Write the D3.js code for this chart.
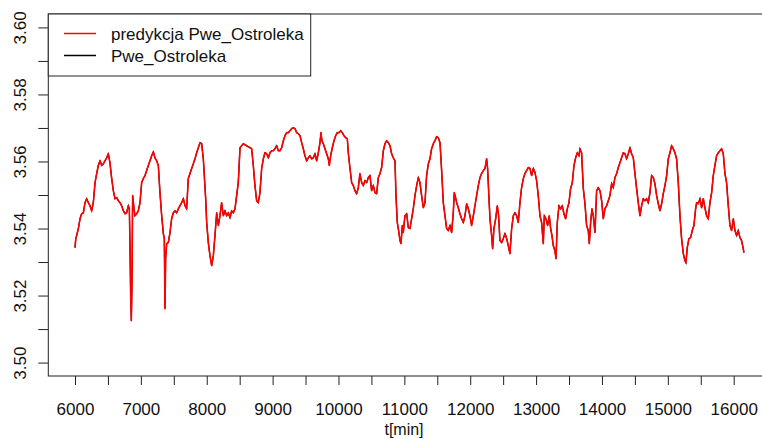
<!DOCTYPE html>
<html>
<head>
<meta charset="utf-8">
<script src="https://cdn.jsdelivr.net/npm/d3@7"></script>
<style>
  html, body { margin: 0; padding: 0; background: #fff; }
  svg text { font-family: "Liberation Sans", Arial, sans-serif; }
</style>
</head>
<body>
<svg id="chart" width="762" height="439"></svg>
<script>
// ---- data ----
const times = [
 6000,6012,6025,6051,6076,6101,6127,6152,6177,6202,6228,6253,6278,6304,6329,6354,6380,6405,6430,6455,
 6481,6506,6531,6557,6582,6607,6633,6658,6683,6708,6734,6759,6784,6810,6825,6835,6845,6855,6865,6875,
 6896,6911,6936,6961,6987,7012,7037,7063,7088,7113,7139,7164,7189,7214,7240,7265,7290,7316,7341,7356,
 7366,7376,7392,7417,7442,7467,7493,7518,7543,7569,7594,7619,7645,7670,7695,7720,7746,7771,7796,7822,
 7847,7872,7898,7923,7948,7963,7984,7999,8024,8049,8075,8100,8125,8151,8176,8201,8226,8252,8277,8302,
 8328,8353,8378,8404,8429,8454,8479,
 8505,8555,8606,8657,8682,8707,8732,8758,8783,8808,8834,8859,8884,8910,8935,8960,8985,9011,9036,9061,
 9087,9112,9137,9163,9188,9213,9238,9264,9289,9314,9340,9365,9390,9416,9441,9466,9491,9517,9542,9567,
 9593,9618,9643,9669,9694,9719,9734,9749,9770,9795,9820,9846,9861,9881,9906,9932,9957,9982,10008,10033,
 10058,10083,10109,10134,10149,10175,10200,10225,10250,10276,10301,10326,10352,10377,10402,10428,10453,10478,10503,10529,
 10554,10579,10605,10630,10655,10681,10706,10731,10756,10782,10807,10832,10858,10873,10893,10913,10934,10949,10969,10984,
 11009,11035,11060,
 11085,11136,11161,11187,11212,11237,11262,11288,11313,11338,11364,11389,11414,11440,11465,11490,11515,11541,11556,11576,
 11591,11617,11642,11667,11693,11718,11743,11758,11778,11794,11819,11844,11870,11895,11920,11946,11971,11996,12021,12047,
 12072,12097,12123,12148,12173,12199,12224,12249,12264,12285,12300,12325,12340,12360,12386,12411,12431,12451,12477,12502,
 12527,12553,12578,12603,12629,12654,12679,12705,12730,12755,12780,12806,12831,12856,12882,12907,12932,12958,12983,13008,
 13033,13059,13084,13109,13125,13150,13175,13200,13221,13241,13261,13286,13302,13322,13347,13373,13398,13423,13448,13474,
 13499,13524,13550,13575,13600,13626,13651,
 13666,13691,13717,13742,13767,13792,13808,13828,13848,13868,13894,13919,13944,13970,13995,14020,14045,14071,14096,14121,
 14147,14172,14197,14223,14248,14273,14298,14324,14349,14374,14400,14425,14450,14476,14501,14526,14551,14577,14602,14627,
 14653,14678,14703,14729,14754,14779,14804,14830,14855,14880,14906,14931,14956,14982,15007,15032,15057,15083,15108,15133,
 15159,15184,15209,15235,15260,15275,15295,15320,15346,15371,15396,15422,15437,15462,15488,15513,15538,15563,15589,15614,
 15639,15665,15690,15715,15740,15766,15791,15816,15842,15867,15892,15918,15943,15968,15994,16019,16044,16069,16095,16120,
 16145,16155
];
const predykcja = [
 3.5343,3.5370,3.5379,3.5400,3.5429,3.5444,3.5447,3.5477,3.5489,3.5477,3.5468,3.5453,3.5477,3.5537,3.5564,3.5588,3.5602,3.5588,3.5593,3.5602,
 3.5611,3.5623,3.5596,3.5549,3.5513,3.5489,3.5492,3.5483,3.5477,3.5468,3.5453,3.5444,3.5447,3.5468,3.5459,3.5349,3.5200,3.5125,3.5239,3.5498,
 3.5459,3.5438,3.5444,3.5453,3.5477,3.5537,3.5549,3.5558,3.5573,3.5588,3.5602,3.5617,3.5629,3.5611,3.5602,3.5588,3.5507,3.5438,3.5385,3.5370,
 3.5161,3.5310,3.5355,3.5358,3.5388,3.5429,3.5447,3.5453,3.5447,3.5459,3.5468,3.5477,3.5489,3.5468,3.5459,3.5549,3.5564,3.5579,3.5593,3.5608,
 3.5626,3.5641,3.5656,3.5653,3.5608,3.5558,3.5489,3.5418,3.5358,3.5319,3.5289,3.5319,3.5379,3.5447,3.5409,3.5438,3.5477,3.5438,3.5453,3.5438,
 3.5447,3.5432,3.5453,3.5447,3.5459,3.5498,3.5537,
 3.5641,3.5653,3.5647,3.5641,3.5638,3.5588,3.5528,3.5483,3.5477,3.5507,3.5579,3.5608,3.5626,3.5623,3.5611,3.5626,3.5632,3.5632,3.5638,3.5647,
 3.5632,3.5632,3.5641,3.5662,3.5677,3.5686,3.5686,3.5692,3.5698,3.5701,3.5698,3.5686,3.5683,3.5677,3.5656,3.5638,3.5617,3.5602,3.5611,3.5617,
 3.5608,3.5611,3.5623,3.5602,3.5626,3.5656,3.5686,3.5662,3.5653,3.5638,3.5623,3.5608,3.5588,3.5617,3.5641,3.5662,3.5677,3.5686,3.5686,3.5692,
 3.5686,3.5677,3.5671,3.5668,3.5626,3.5579,3.5537,3.5528,3.5513,3.5504,3.5522,3.5564,3.5537,3.5528,3.5543,3.5537,3.5552,3.5558,3.5513,3.5528,
 3.5507,3.5504,3.5552,3.5564,3.5582,3.5632,3.5653,3.5662,3.5656,3.5647,3.5623,3.5611,3.5602,3.5498,3.5418,3.5394,3.5364,3.5355,3.5409,3.5388,
 3.5438,3.5444,3.5403,
 3.5400,3.5459,3.5498,3.5528,3.5552,3.5537,3.5498,3.5462,3.5477,3.5558,3.5593,3.5608,3.5638,3.5653,3.5662,3.5674,3.5671,3.5656,3.5608,3.5537,
 3.5477,3.5438,3.5400,3.5394,3.5409,3.5388,3.5447,3.5507,3.5492,3.5477,3.5462,3.5444,3.5429,3.5418,3.5438,3.5474,3.5459,3.5438,3.5409,3.5438,
 3.5468,3.5498,3.5528,3.5552,3.5564,3.5573,3.5579,3.5608,3.5579,3.5489,3.5429,3.5379,3.5340,3.5400,3.5429,3.5468,3.5438,3.5364,3.5358,3.5370,
 3.5385,3.5370,3.5349,3.5325,3.5400,3.5438,3.5447,3.5438,3.5418,3.5477,3.5522,3.5549,3.5564,3.5573,3.5582,3.5579,3.5558,3.5579,3.5567,3.5543,
 3.5498,3.5438,3.5418,3.5355,3.5438,3.5429,3.5409,3.5438,3.5400,3.5379,3.5349,3.5334,3.5310,3.5418,3.5468,3.5459,3.5468,3.5444,3.5429,3.5459,
 3.5477,3.5519,3.5537,3.5588,3.5611,3.5626,3.5617,
 3.5638,3.5626,3.5519,3.5474,3.5409,3.5394,3.5355,3.5418,3.5459,3.5438,3.5388,3.5513,3.5522,3.5513,3.5483,3.5429,3.5459,3.5468,3.5483,3.5498,
 3.5534,3.5522,3.5552,3.5564,3.5582,3.5596,3.5611,3.5626,3.5623,3.5608,3.5623,3.5641,3.5623,3.5611,3.5564,3.5519,3.5477,3.5438,3.5468,3.5489,
 3.5483,3.5489,3.5477,3.5507,3.5558,3.5552,3.5534,3.5498,3.5474,3.5453,3.5474,3.5504,3.5528,3.5558,3.5608,3.5626,3.5647,3.5638,3.5626,3.5608,
 3.5537,3.5438,3.5370,3.5325,3.5304,3.5298,3.5343,3.5370,3.5373,3.5394,3.5409,3.5459,3.5477,3.5474,3.5489,3.5462,3.5489,3.5462,3.5438,3.5429,
 3.5477,3.5507,3.5558,3.5588,3.5617,3.5626,3.5632,3.5638,3.5623,3.5564,3.5537,3.5468,3.5409,3.5394,3.5429,3.5394,3.5379,3.5394,3.5373,3.5364,
 3.5340,3.5328
];
// the observed series is drawn underneath and is almost entirely covered by the prediction
const observed = predykcja;

const xTicks = d3.range(6000, 16001, 500);
const xTickLabels = [6000, 7000, 8000, 9000, 10000, 11000, 12000, 13000, 14000, 15000, 16000];
const yTicks = [3.50, 3.51, 3.52, 3.53, 3.54, 3.55, 3.56, 3.57, 3.58, 3.59, 3.60];
const yTickLabels = [3.50, 3.52, 3.54, 3.56, 3.58, 3.60];
const yLimits = [3.50, 3.60];
const legendNames = ["predykcja Pwe_Ostroleka", "Pwe_Ostroleka"];
const legendColors = ["#ff0000", "#000000"];
const xTitle = "t[min]";

// ---- layout ----
const svg = d3.select("#chart");
const plotTop = 14, plotBottom = 376, plotLeft = 48.3;

// R-style 4% axis extension
const xmin = d3.min(times), xmax = d3.max(times);
const xr = xmax - xmin;
const xScale = d3.scaleLinear().domain([6000, 16000]).range([75, 733.7]);
const xDom = [xmin - 0.04 * xr, xmax + 0.04 * xr];
const plotRight = xScale(xDom[1]);
const yr = yLimits[1] - yLimits[0];
const yScale = d3.scaleLinear()
  .domain([yLimits[0] - 0.04 * yr, yLimits[1] + 0.04 * yr])
  .range([plotBottom, plotTop]);

// clip
svg.append("defs").append("clipPath").attr("id", "clip")
  .append("rect").attr("x", plotLeft).attr("y", plotTop)
  .attr("width", plotRight - plotLeft).attr("height", plotBottom - plotTop);

const line = d3.line()
  .x((d, i) => xScale(times[i]))
  .y(d => yScale(d));

const g = svg.append("g").attr("clip-path", "url(#clip)");
g.append("path").datum(observed)
  .attr("d", line).attr("fill", "none")
  .attr("stroke", "#000").attr("stroke-width", 1.2);
g.append("path").datum(predykcja)
  .attr("d", line).attr("fill", "none")
  .attr("stroke", "#ff0000").attr("stroke-width", 1.6)
  .attr("stroke-linejoin", "round");

// box
svg.append("rect")
  .attr("x", plotLeft).attr("y", plotTop)
  .attr("width", plotRight - plotLeft).attr("height", plotBottom - plotTop)
  .attr("fill", "none").attr("stroke", "#222").attr("stroke-width", 1);

// x axis
const xAxis = d3.axisBottom(xScale)
  .tickValues(xTicks)
  .tickSize(9)
  .tickPadding(18)
  .tickFormat(d => xTickLabels.includes(d) ? String(d) : "");
const gx = svg.append("g").attr("transform", `translate(0,${plotBottom})`).call(xAxis);
gx.select(".domain").remove();
gx.selectAll(".tick line").attr("stroke", "#222");
gx.selectAll(".tick text")
  .attr("font-size", 17).attr("fill", "#111")
  .attr("font-family", "'Liberation Sans', Arial, sans-serif");

// y axis
const yAxis = d3.axisLeft(yScale)
  .tickValues(yTicks)
  .tickSize(10)
  .tickFormat(d => yTickLabels.some(v => Math.abs(v - d) < 1e-9) ? d.toFixed(2) : "");
const gy = svg.append("g").attr("transform", `translate(${plotLeft},0)`).call(yAxis);
gy.select(".domain").remove();
gy.selectAll(".tick line").attr("stroke", "#222");
gy.selectAll(".tick text").remove();
gy.selectAll(".tick").each(function(d) {
  const lab = yTickLabels.some(v => Math.abs(v - d) < 1e-9) ? d.toFixed(2) : "";
  if (!lab) return;
  d3.select(this).append("text")
    .attr("transform", "translate(-22,0) rotate(-90)")
    .attr("text-anchor", "middle")
    .attr("font-size", 17).attr("fill", "#111")
    .attr("font-family", "'Liberation Sans', Arial, sans-serif")
    .text(lab);
});

// x title
svg.append("text")
  .attr("x", 404).attr("y", 434.5)
  .attr("text-anchor", "middle")
  .attr("font-size", 16).attr("fill", "#111")
  .text(xTitle);

// legend
const lg = svg.append("g");
lg.append("rect")
  .attr("x", plotLeft).attr("y", plotTop)
  .attr("width", 310.7 - plotLeft).attr("height", 76 - plotTop)
  .attr("fill", "#fff").attr("stroke", "#222").attr("stroke-width", 1);
legendNames.forEach((name, i) => {
  const yy = 33.5 + i * 22;
  lg.append("line")
    .attr("x1", 64).attr("x2", 96).attr("y1", yy).attr("y2", yy)
    .attr("stroke", legendColors[i]).attr("stroke-width", 1.5);
  lg.append("text")
    .attr("x", 111).attr("y", yy + 6)
    .attr("font-size", 17).attr("fill", "#111")
    .text(name);
});
</script>
</body>
</html>
